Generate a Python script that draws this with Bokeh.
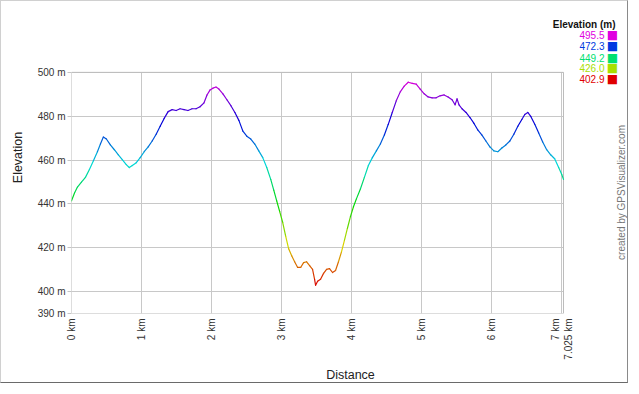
import math
import colorsys
from bokeh.plotting import figure
from bokeh.models import FixedTicker, Label, Range1d, ColumnDataSource, BoxAnnotation, Grid
from bokeh.embed import file_html
from bokeh.resources import INLINE

# ---------------- data ----------------
distance_km = [
    0.000, 0.043, 0.085, 0.142, 0.199, 0.256, 0.313, 0.370, 0.413, 0.455,
    0.498, 0.555, 0.612, 0.669, 0.725, 0.782, 0.825, 0.868, 0.925, 0.981,
    1.038, 1.095, 1.152, 1.209, 1.266, 1.323, 1.380, 1.437, 1.494, 1.550,
    1.607, 1.664, 1.721, 1.778, 1.835, 1.892, 1.935, 1.977, 2.020, 2.063,
    2.105, 2.162, 2.219, 2.276, 2.333, 2.390, 2.447, 2.503, 2.560, 2.617,
    2.674, 2.731, 2.788, 2.845, 2.888, 2.930, 2.973, 3.016, 3.058, 3.101,
    3.144, 3.186, 3.229, 3.272, 3.314, 3.357, 3.400, 3.442, 3.471, 3.485,
    3.514, 3.556, 3.599, 3.642, 3.684, 3.727, 3.770, 3.812, 3.855, 3.898,
    3.940, 3.983, 4.026, 4.068, 4.125, 4.182, 4.239, 4.296, 4.353, 4.410,
    4.467, 4.523, 4.580, 4.637, 4.694, 4.751, 4.808, 4.865, 4.922, 4.979,
    5.036, 5.092, 5.149, 5.206, 5.263, 5.320, 5.377, 5.434, 5.477, 5.505,
    5.533, 5.576, 5.633, 5.690, 5.747, 5.804, 5.861, 5.917, 5.974, 6.031,
    6.088, 6.145, 6.202, 6.259, 6.316, 6.373, 6.430, 6.472, 6.515, 6.558,
    6.615, 6.671, 6.728, 6.785, 6.842, 6.899, 6.956, 6.999, 7.025,
]
elevation_m = [
    441.4, 445.0, 447.7, 449.9, 452.1, 455.7, 459.7, 463.8, 467.3, 470.5,
    469.6, 466.9, 464.7, 462.4, 460.2, 457.9, 456.6, 457.5, 458.8, 461.1,
    463.8, 466.0, 468.7, 471.8, 475.4, 479.0, 482.1, 483.0, 482.6, 483.4,
    483.0, 482.6, 483.4, 483.4, 484.3, 486.1, 489.7, 491.9, 492.8, 493.3,
    492.4, 490.2, 487.5, 484.8, 481.7, 478.1, 473.2, 470.9, 469.6, 467.3,
    464.2, 461.1, 456.6, 451.2, 446.3, 441.4, 436.5, 431.5, 425.3, 419.5,
    416.3, 413.6, 411.0, 411.0, 413.2, 413.6, 411.8, 410.1, 405.6, 402.9,
    404.7, 405.6, 408.3, 410.1, 410.5, 408.7, 409.6, 413.6, 418.1, 423.5,
    428.9, 434.2, 438.7, 442.3, 446.8, 452.1, 457.5, 461.1, 464.2, 467.3,
    471.4, 476.3, 481.7, 487.0, 491.1, 493.7, 495.5, 495.0, 494.6, 492.4,
    490.2, 488.8, 488.4, 488.4, 489.3, 489.7, 488.8, 487.5, 485.2, 487.9,
    485.2, 483.4, 481.7, 479.4, 476.7, 473.6, 471.4, 468.7, 466.0, 464.2,
    463.8, 465.5, 466.9, 468.7, 471.8, 475.4, 478.5, 480.8, 481.7, 479.9,
    476.3, 472.3, 468.2, 464.7, 462.4, 460.6, 456.6, 453.5, 451.2,
]
x_ticks_km = [0, 1, 2, 3, 4, 5, 6, 7]
y_ticks_m = [390, 400, 420, 440, 460, 480, 500]
legend_values = [495.5, 472.3, 449.2, 426.0, 402.9]
total_km = 7.025
y_min, y_max = 390, 500

E_MIN, E_MAX = min(legend_values), max(legend_values)


def ramp(e, v):
    f = (e - E_MIN) / (E_MAX - E_MIN)
    f = min(max(f, 0.0), 1.0)
    r, g, b = colorsys.hsv_to_rgb(f * 300.0 / 360.0, 1.0, v)
    return "#%02x%02x%02x" % (round(r * 255), round(g * 255), round(b * 255))


# ---------------- layout ----------------
W, H = 628, 383            # canvas size
FL, FB = 70, 66            # left / bottom borders; frame reaches top and right edges
PLOT_W, PLOT_H = 492, 245  # pixel size of the visible plot area
FONT = "Liberation Sans"
GRID = "#c8c8c8"

fw = W - FL
fh = H - FB
x_end = total_km * fw / PLOT_W
y_top = y_min + (y_max - y_min) * fh / PLOT_H

p = figure(width=W, height=H,
           x_range=Range1d(0, x_end), y_range=Range1d(y_min, y_top),
           output_backend="svg", toolbar_location=None,
           min_border_left=FL, min_border_right=0,
           min_border_top=0, min_border_bottom=FB,
           x_axis_label="Distance", y_axis_label="Elevation")
p.styles = {"border-left": "1px solid #d0d0d0", "border-top": "1px solid #d0d0d0",
            "border-right": "1px solid #8a8a8a", "border-bottom": "1px solid #6a6a6a"}
p.background_fill_color = "white"
p.border_fill_color = "white"
p.outline_line_color = None

PX0 = 1 + FL      # picture x of frame left
PY1 = 1 + fh      # picture y of frame bottom


def dx(px):
    return (px - PX0) * x_end / fw


def dy(py):
    return y_min + (PY1 - py) * (y_top - y_min) / fh


# axes
p.xaxis.ticker = FixedTicker(ticks=x_ticks_km)
p.yaxis.ticker = FixedTicker(ticks=y_ticks_m)
p.xaxis.bounds = (0, total_km)
p.yaxis.bounds = (y_min, y_max)
x_labels = {t: f"{t} km" for t in x_ticks_km}
x_labels[x_ticks_km[-1]] = f"{x_ticks_km[-1]} km\n{total_km} km"
p.xaxis.major_label_overrides = x_labels
p.yaxis.major_label_overrides = {t: f"{t} m" for t in y_ticks_m}
p.xaxis.major_label_orientation = math.pi / 2
for ax in (p.xaxis, p.yaxis):
    ax.axis_line_color = None
    ax.major_tick_line_color = "#c4c4c4"
    ax.minor_tick_line_color = None
    ax.major_tick_in = 0
    ax.major_label_text_font = FONT
    ax.major_label_text_font_size = "10px"
    ax.major_label_text_color = "#333333"
    ax.axis_label_text_font = FONT
    ax.axis_label_text_font_size = "12.5px"
    ax.axis_label_text_font_style = "normal"
    ax.axis_label_text_color = "#222222"
p.yaxis.major_tick_out = 4
p.yaxis.major_label_standoff = 2
p.yaxis.axis_label_standoff = 10
p.xaxis.major_tick_out = 0
p.xaxis.major_label_standoff = 5
p.xaxis.axis_label_standoff = 5

# grid lines limited to the plot area
if "cross_bounds" in Grid.properties():
    p.xgrid.ticker = FixedTicker(ticks=x_ticks_km)
    p.ygrid.ticker = FixedTicker(ticks=y_ticks_m)
    p.xgrid.bounds = (0, total_km)
    p.ygrid.bounds = (y_min, y_max)
    p.xgrid.cross_bounds = (y_min, y_max)
    p.ygrid.cross_bounds = (0, total_km)
    p.grid.grid_line_color = GRID
    p.grid.grid_line_width = 1
    p.grid.grid_line_alpha = 1.0
else:
    p.grid.visible = False
    vx = [t for t in x_ticks_km if 0 < t < total_km]
    p.segment(x0=vx, y0=[y_min] * len(vx), x1=vx, y1=[y_max] * len(vx),
              line_color=GRID, line_width=1)
    hy = [t for t in y_ticks_m if y_min < t < y_max]
    p.segment(x0=[0] * len(hy), y0=hy, x1=[total_km] * len(hy), y1=hy,
              line_color=GRID, line_width=1)

# plot-area outline
p.add_layout(BoxAnnotation(left=0, right=total_km, bottom=y_min, top=y_max,
                           fill_alpha=0.0, line_color="#bcbcbc", line_alpha=1.0,
                           line_width=1, level="underlay"))

# colored elevation line
x0, y0, x1, y1, cols = [], [], [], [], []
for i in range(len(distance_km) - 1):
    x0.append(distance_km[i]); x1.append(distance_km[i + 1])
    y0.append(elevation_m[i]); y1.append(elevation_m[i + 1])
    cols.append(ramp((elevation_m[i] + elevation_m[i + 1]) / 2, 0.85))
src = ColumnDataSource(dict(x0=x0, y0=y0, x1=x1, y1=y1, c=cols))
p.segment(x0="x0", y0="y0", x1="x1", y1="y1", line_color="c",
          line_width=1.2, line_cap="round", source=src)

# legend
p.add_layout(Label(x=dx(615), y=dy(24.5), text="Elevation (m)", text_align="right",
                   text_baseline="middle", text_font=FONT, text_font_size="10px",
                   text_font_style="bold", text_color="#111111"))
legend_rows = [35.5, 46.7, 58.0, 69.0, 80.2]
for v, row in zip(legend_values, legend_rows):
    yy = dy(row)
    c = ramp(v, 0.88)
    p.add_layout(Label(x=dx(604), y=yy, text=f"{v:.1f}", text_align="right",
                       text_baseline="middle", text_font=FONT, text_font_size="10px",
                       text_color=c))
    p.add_layout(Label(x=dx(612), y=yy, text="\u25a0", text_align="center",
                       text_baseline="middle", text_font="DejaVu Sans",
                       text_font_size="12px", text_color=c))

# credit
p.add_layout(Label(x=dx(621), y=dy(195), text="created by GPSVisualizer.com",
                   angle=math.pi / 2, text_align="center", text_baseline="middle",
                   text_font=FONT, text_font_size="10px", text_color="#777777"))

open("out.html", "w").write(file_html(p, INLINE))
